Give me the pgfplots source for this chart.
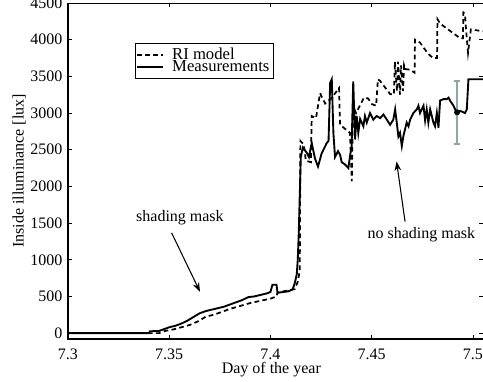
\documentclass[12pt,border=0pt]{standalone}
\usepackage{fontspec}
\setmainfont{Liberation Serif}
\usepackage{pgfplots}
\pgfplotsset{compat=1.18}
\usetikzlibrary{arrows.meta}
\definecolor{errgrey}{RGB}{140,165,170}
\begin{document}
\begin{tikzpicture}
\begin{axis}[
 scale only axis, width=311.25pt, height=252pt,
 xmin=7.3, xmax=7.505, ymin=-80, ymax=4500,
 xtick={7.3,7.35,7.4,7.45,7.5}, xticklabels={7.3,7.35,7.4,7.45,7.5},
 ytick={0,500,...,4500},
 scaled ticks=false,
 /pgf/number format/1000 sep={},
 /pgf/number format/assume math mode=true,
 tick align=inside, major tick length=3pt,
 tick style={black, line width=0.5pt},
 axis line style={line width=0.6pt},
 xticklabel style={yshift=-3.5pt},
 xlabel={Day of the year}, ylabel={Inside illuminance [lux]},
 xlabel style={at={(axis description cs:0.49,-0.092)}, anchor=center},
 ylabel style={at={(axis description cs:-0.118,0.5)}, anchor=center},
 legend style={at={(0.161,0.881)}, anchor=north west, draw=black, line width=0.6pt,
   inner xsep=1pt, inner ysep=1.5pt, row sep=-5pt, column sep=4pt,
   font=\fontsize{12.5}{14}\selectfont, cells={anchor=west}},
 legend image code/.code={\draw[mark repeat=2,mark phase=2,#1] plot coordinates {(0cm,0cm) (0.34cm,0cm) (0.68cm,0cm)};},
 clip=true,
]
\addplot[black, line width=1.3pt, dash pattern=on 3.5pt off 2.5pt] table {
7.3000 0
7.3450 0
7.3480 30
7.3520 50
7.3560 80
7.3600 110
7.3650 170
7.3680 225
7.3720 250
7.3760 290
7.3800 330
7.3850 370
7.3900 410
7.3950 440
7.4000 470
7.4030 500
7.4035 550
7.4060 570
7.4090 580
7.4120 600
7.4135 700
7.4145 850
7.4148 2620
7.4165 2570
7.4175 2350
7.4200 2330
7.4204 2960
7.4225 2930
7.4245 3270
7.4270 3130
7.4300 3200
7.4339 3340
7.4344 2840
7.4393 2730
7.4402 2070
7.4408 3090
7.4423 3000
7.4462 3210
7.4482 3200
7.4502 3120
7.4522 3100
7.4531 3460
7.4541 3440
7.4591 3260
7.4610 3250
7.4615 3700
7.4625 3300
7.4630 3700
7.4640 3250
7.4645 3650
7.4655 3300
7.4660 3650
7.4665 3600
7.4690 3590
7.4712 3550
7.4714 4000
7.4739 3960
7.4778 3810
7.4803 3750
7.4823 3750
7.4825 4280
7.4838 4220
7.4897 4100
7.4937 4020
7.4951 4020
7.4953 4370
7.4961 4350
7.4966 4150
7.4976 3820
7.4990 4140
7.5060 4110
};
\addlegendentry{RI model}
\addplot[black, line width=1.4pt] table {
7.3000 0
7.3400 0
7.3405 25
7.3450 30
7.3480 60
7.3500 80
7.3530 100
7.3560 130
7.3590 170
7.3620 220
7.3650 270
7.3680 300
7.3710 320
7.3740 340
7.3770 360
7.3800 390
7.3830 420
7.3860 450
7.3890 490
7.3920 500
7.3950 520
7.3980 540
7.4000 560
7.4010 660
7.4030 660
7.4035 550
7.4060 560
7.4090 570
7.4110 600
7.4120 680
7.4130 800
7.4135 1000
7.4140 1370
7.4145 1900
7.4150 2400
7.4160 2530
7.4179 2460
7.4190 2400
7.4204 2590
7.4220 2380
7.4235 2270
7.4253 2450
7.4278 2590
7.4287 2620
7.4295 3410
7.4303 3460
7.4311 2730
7.4319 2400
7.4334 2480
7.4344 2430
7.4352 2330
7.4368 2300
7.4385 2250
7.4393 2410
7.4401 2550
7.4409 3430
7.4418 2640
7.4426 2960
7.4434 2730
7.4443 2920
7.4459 2820
7.4467 2960
7.4476 2870
7.4492 3000
7.4508 2910
7.4525 2960
7.4542 2930
7.4558 2980
7.4575 2910
7.4591 2840
7.4607 2910
7.4616 3050
7.4624 2870
7.4632 2680
7.4640 2730
7.4649 2550
7.4657 2690
7.4673 2870
7.4682 2820
7.4690 2910
7.4706 3000
7.4723 3050
7.4731 3100
7.4739 3000
7.4756 3100
7.4764 2900
7.4772 3050
7.4780 2870
7.4789 3050
7.4797 2960
7.4805 2870
7.4813 2820
7.4822 3000
7.4830 2800
7.4838 3170
7.4855 3190
7.4871 3190
7.4880 3210
7.4887 3170
7.4904 3100
7.4921 3000
7.4937 3030
7.4961 3000
7.4970 3050
7.4978 3460
7.5060 3460
};
\addlegendentry{Measurements}
\addplot[only marks, mark=none, forget plot,
 error bars/.cd, y dir=both, y explicit,
 error bar style={color=errgrey, line width=1.5pt},
 error mark options={color=errgrey, line width=1.2pt, rotate=90, mark size=2.2pt}]
 coordinates {(7.4922,3010) +- (0,430)};
\node at (axis cs:7.3553,1571) {shading mask};
\draw[line width=0.8pt, -{Stealth[length=7pt,width=5pt]}] (axis cs:7.3512,1366) -- (axis cs:7.3652,564);
\node at (axis cs:7.4746,1339) {no shading mask};
\draw[line width=0.8pt, -{Stealth[length=7pt,width=5pt]}] (axis cs:7.4665,1520) -- (axis cs:7.4623,2340);
\end{axis}
\draw[line width=1.8pt] (current axis.north west) -- (current axis.south west) -- (current axis.south east);
\pgfresetboundingbox
\path[use as bounding box] ([xshift=-51pt,yshift=-32.25pt]current axis.south west) rectangle ([yshift=2.25pt]current axis.north east);
\end{tikzpicture}
\end{document}
